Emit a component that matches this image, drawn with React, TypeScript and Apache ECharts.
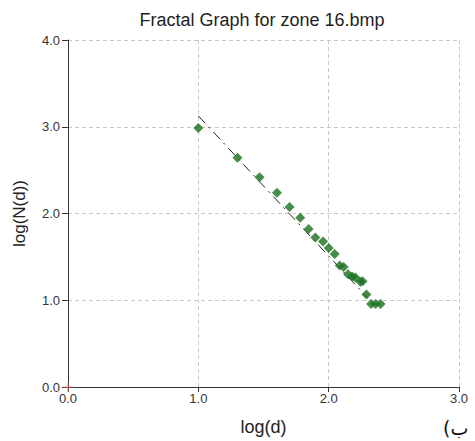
import React, { useEffect, useRef } from "react";
import * as echarts from "echarts";

const logD = [1.0, 1.3, 1.47, 1.603, 1.7, 1.782, 1.846, 1.898, 1.957, 2.0, 2.046, 2.085, 2.115, 2.149, 2.18, 2.205, 2.244, 2.26, 2.29, 2.326, 2.36, 2.398];
const logN = [2.985, 2.644, 2.417, 2.239, 2.076, 1.951, 1.822, 1.723, 1.678, 1.602, 1.534, 1.401, 1.383, 1.299, 1.273, 1.261, 1.212, 1.22, 1.065, 0.958, 0.958, 0.958];
const fitLine = [[1.0, 3.125], [2.3, 1.026]];
const origin = [[0, 0]];
const titleText = "Fractal Graph for zone 16.bmp";

export default function App() {
  const ref = useRef<HTMLDivElement>(null);
  useEffect(() => {
    const chart = echarts.init(ref.current!, null, { renderer: "svg" });
    const font = "Liberation Sans, Arial, sans-serif";
    chart.setOption({
      animation: false,
      backgroundColor: "#fff",
      textStyle: { fontFamily: font },
      grid: { left: 68, right: 16, top: 40, bottom: 50 },
      xAxis: {
        type: "value",
        min: 0,
        max: 3,
        interval: 1,
        name: "log(d)",
        nameLocation: "middle",
        nameGap: 31,
        nameTextStyle: { fontSize: 18, color: "#222" },
        axisLine: { lineStyle: { color: "#333" } },
        axisTick: { length: 5, lineStyle: { color: "#333" } },
        axisLabel: { fontSize: 13, color: "#333", margin: 5, formatter: (v: number) => v.toFixed(1) },
        splitLine: { show: true, lineStyle: { type: [4, 3], color: "#c8c8c8" } },
      },
      yAxis: {
        type: "value",
        min: 0,
        max: 4,
        interval: 1,
        name: "log(N(d))",
        nameLocation: "middle",
        nameGap: 40,
        nameTextStyle: { fontSize: 17, color: "#222" },
        axisLine: { show: true, lineStyle: { color: "#333" } },
        axisTick: { show: true, length: 6, lineStyle: { color: "#333" } },
        axisLabel: { fontSize: 13, color: "#333", margin: 8, formatter: (v: number) => v.toFixed(1) },
        splitLine: { show: true, lineStyle: { type: [4, 3], color: "#c8c8c8" } },
      },
      series: [
        {
          type: "line",
          data: fitLine,
          symbol: "none",
          lineStyle: { color: "#222", width: 1, type: [10, 5, 2, 5] },
          z: 2,
        },
        {
          type: "scatter",
          data: logD.map((x, i) => [x, logN[i]]),
          symbol: "diamond",
          symbolSize: 10,
          itemStyle: { color: "#17701a" },
          z: 3,
        },
        {
          type: "scatter",
          data: origin,
          symbol: "path://M4.5 0H5.5V4.5H10V5.5H5.5V10H4.5V5.5H0V4.5H4.5Z",
          symbolSize: 10,
          itemStyle: { color: "#e57373" },
          z: 4,
        },
      ],
      graphic: [
        {
          type: "text",
          x: 262,
          y: 20,
          style: {
            text: titleText,
            fontSize: 18,
            fill: "#222",
            fontFamily: font,
            textAlign: "center",
            textVerticalAlign: "middle",
          },
        },
        {
          type: "text",
          left: 443,
          top: 418,
          style: { text: "(ب", fontSize: 19, fill: "#111", fontFamily: "DejaVu Sans" },
        },
      ],
    });
    return () => chart.dispose();
  }, []);
  return <div ref={ref} style={{ position: "absolute", left: 0, top: 0, width: 475, height: 441 }} />;
}
